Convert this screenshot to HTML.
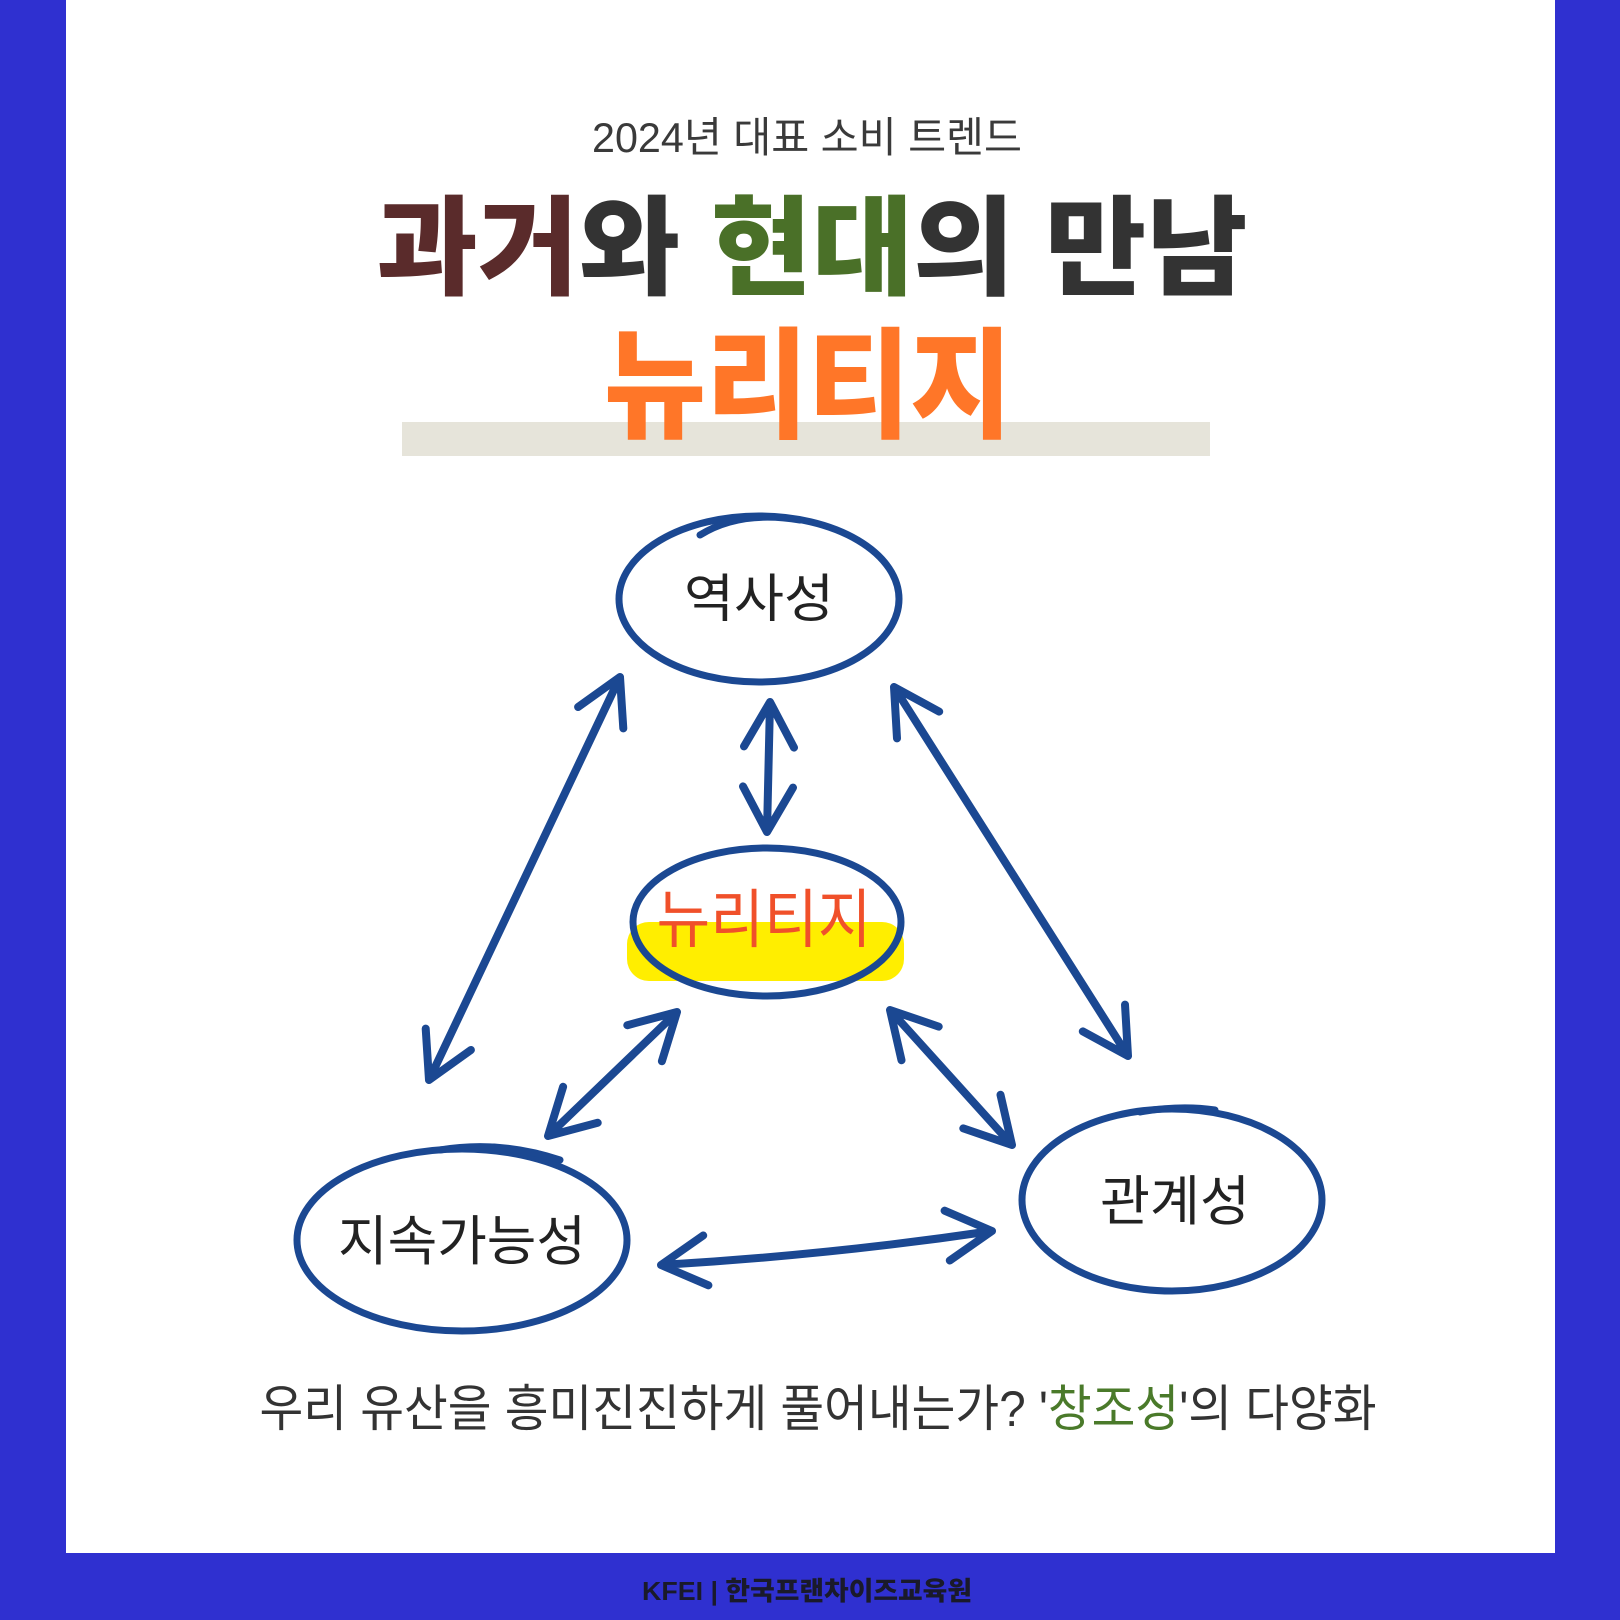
<!DOCTYPE html>
<html><head><meta charset="utf-8"><style>
html,body{margin:0;padding:0;background:#2f30d0;}
svg{display:block}
</style></head><body>
<svg width="1620" height="1620" viewBox="0 0 1620 1620" xmlns="http://www.w3.org/2000/svg">
<rect x="0" y="0" width="1620" height="1620" fill="#2f30d0"/>
<rect x="66" y="0" width="1489" height="1553" fill="#ffffff"/>
<g font-family="'Liberation Sans','Noto Sans CJK KR',sans-serif">
<text x="807" y="152" font-size="42" fill="#3a3a3a" text-anchor="middle" textLength="430" lengthAdjust="spacingAndGlyphs">2024년 대표 소비 트렌드</text>
<rect x="402" y="422" width="808" height="34" fill="#e6e4da"/>
<text x="812" y="286" font-size="108" font-weight="900" fill="#333" text-anchor="middle" textLength="871" lengthAdjust="spacingAndGlyphs"><tspan fill="#5a2b2b">과거</tspan>와 <tspan fill="#4a7028">현대</tspan>의 만남</text>
<text x="808" y="428" font-size="120" font-weight="900" fill="#ff7628" text-anchor="middle" textLength="408" lengthAdjust="spacingAndGlyphs">뉴리티지</text>
</g>
<g fill="none" stroke="#1b4892" stroke-width="7" stroke-linecap="round" stroke-linejoin="round">
<ellipse cx="759" cy="599" rx="140" ry="83"/>
<path d="M700 535 Q740 510 800 520" />
</g>
<rect x="627" y="922" width="277" height="59" rx="22" fill="#ffee00"/>
<g fill="none" stroke="#1b4892" stroke-width="7" stroke-linecap="round" stroke-linejoin="round">
<ellipse cx="767" cy="922" rx="134" ry="74"/>
<ellipse cx="462" cy="1240" rx="165" ry="91"/>
<path d="M440 1150 Q500 1140 560 1160"/>
<ellipse cx="1172" cy="1200" rx="150" ry="91"/>
<path d="M1140 1112 Q1180 1105 1215 1110"/>
<g stroke-width="8">
<path d="M620 677 L429 1080 M470.9 1050 L429 1080 L425.7 1028.6 M623.3 728.4 L620 677 L578.1 707"/>
<path d="M770 702 L767 832 M793 787.6 L767 832 L743 786.4 M794 747.6 L770 702 L744 746.4"/>
<path d="M894 687 L1128 1056 M1125 1004.6 L1128 1056 L1082.8 1031.4 M939.2 711.6 L894 687 L897 738.4"/>
<path d="M677 1012 L548 1136 M597.7 1122.8 L548 1136 L563.1 1086.8 M661.9 1061.2 L677 1012 L627.3 1025.2"/>
<path d="M890 1010 L1012 1145 M1000.5 1094.8 L1012 1145 L963.3 1128.4 M938.7 1026.6 L890 1010 L901.5 1060.2"/>
<path d="M661 1265 Q830 1255 992 1231 M944.6 1210.7 L992 1231 L949.8 1260.5 M703.2 1235.5 L661 1265 L708.4 1285.3"/>
</g>
</g>
<g font-family="'Liberation Sans','Noto Sans CJK KR',sans-serif" text-anchor="middle">
<text x="759" y="617" font-size="52" fill="#222" textLength="150" lengthAdjust="spacingAndGlyphs">역사성</text>
<text x="764" y="942" font-size="64" fill="#f0502a" textLength="215" lengthAdjust="spacingAndGlyphs">뉴리티지</text>
<text x="462" y="1260" font-size="54" fill="#222" textLength="248" lengthAdjust="spacingAndGlyphs">지속가능성</text>
<text x="1175" y="1220" font-size="54" fill="#222" textLength="150" lengthAdjust="spacingAndGlyphs">관계성</text>
<text x="818" y="1426" font-size="50" fill="#333" textLength="1117" lengthAdjust="spacingAndGlyphs">우리 유산을 흥미진진하게 풀어내는가? '<tspan fill="#4a7a2a">창조성</tspan>'의 다양화</text>
<text x="807" y="1600" font-size="26" font-weight="900" fill="#1a1a2a" textLength="330" lengthAdjust="spacingAndGlyphs">KFEI | 한국프랜차이즈교육원</text>
</g>
</svg>
</body></html>
